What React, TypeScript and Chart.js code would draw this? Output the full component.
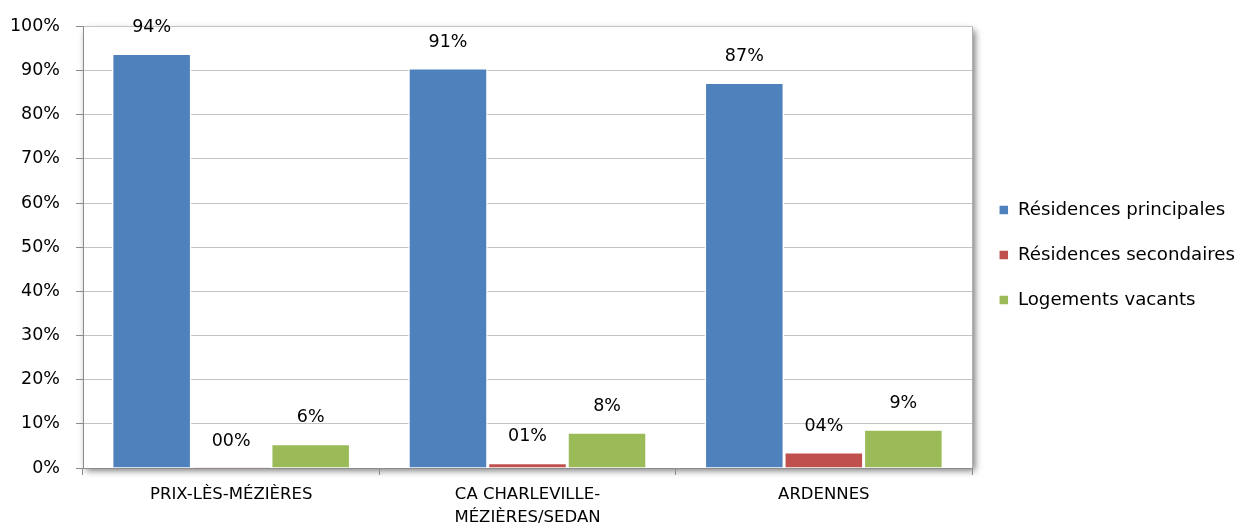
import React, { useEffect, useRef } from "react";
import { Chart, registerables } from "chart.js";

Chart.register(...registerables);

const categories: string[][] = [["PRIX-LÈS-MÉZIÈRES"], ["CA CHARLEVILLE-", "MÉZIÈRES/SEDAN"], ["ARDENNES"]];
const seriesNames = ["Résidences principales", "Résidences secondaires", "Logements vacants"];
const principales = [93.9, 90.6, 87.3];
const secondaires = [0.2, 1.2, 3.6];
const vacants = [5.5, 8.1, 8.8];
const seriesColors = ["#4F81BD", "#C0504D", "#9BBB59"];
const labelPadDigits = [1, 2, 1];
const yMin = 0;
const yMax = 100;
const yStep = 10;

const FONT = "'DejaVu Sans', sans-serif";

const plotDecor = {
  id: "plotDecor",
  afterLayout(chart: any) {
    const lg = chart.legend;
    if (lg) {
      lg.top = 0;
      lg.bottom = 510;
    }
  },
  beforeDraw(chart: any) {
    const { ctx, chartArea: a } = chart;
    ctx.save();
    ctx.shadowColor = "rgba(0,0,0,0.55)";
    ctx.shadowBlur = 7;
    ctx.shadowOffsetX = 3;
    ctx.shadowOffsetY = 3;
    ctx.fillStyle = "#fff";
    ctx.fillRect(a.left, a.top, a.right - a.left, a.bottom - a.top);
    ctx.restore();
  },
  beforeDatasetsDraw(chart: any) {
    const { ctx, chartArea: a } = chart;
    ctx.save();
    ctx.strokeStyle = "#b0b0b0";
    ctx.lineWidth = 1;
    ctx.beginPath();
    ctx.moveTo(Math.round(a.right) + 0.5, a.top);
    ctx.lineTo(Math.round(a.right) + 0.5, a.bottom);
    ctx.stroke();
    ctx.restore();
  },
};

const valueLabels = {
  id: "valueLabels",
  afterDatasetsDraw(chart: any) {
    const { ctx } = chart;
    ctx.save();
    ctx.font = `17.5px ${FONT}`;
    ctx.fillStyle = "#000";
    ctx.textAlign = "center";
    ctx.textBaseline = "middle";
    chart.data.datasets.forEach((ds: any, di: number) => {
      const meta = chart.getDatasetMeta(di);
      meta.data.forEach((bar: any, i: number) => {
        const v = ds.data[i] as number;
        const txt = String(Math.round(v)).padStart(labelPadDigits[di], "0") + "%";
        ctx.fillText(txt, bar.x, bar.y - 26);
      });
    });
    ctx.restore();
  },
};

export default function App() {
  const ref = useRef<HTMLCanvasElement | null>(null);
  useEffect(() => {
    if (!ref.current) return;
    const chart = new Chart(ref.current, {
      type: "bar",
      data: {
        labels: categories as any,
        datasets: [principales, secondaires, vacants].map((d, i) => ({
          label: seriesNames[i],
          data: d,
          backgroundColor: seriesColors[i],
          borderColor: "#ffffff",
          borderWidth: 1.5,
          categoryPercentage: 0.805,
          barPercentage: 1,
        })),
      },
      options: {
        animation: false,
        responsive: false,
        devicePixelRatio: 1,
        layout: { padding: { top: 23.5, bottom: 0, left: 0, right: 0 } },
        plugins: {
          tooltip: { enabled: false },
          legend: {
            position: "right",
            align: "center",
            labels: {
              boxWidth: 10,
              boxHeight: 10,
              padding: 26.8,
              color: "#000",
              font: { family: FONT, size: 18.2 },
            },
          },
        },
        scales: {
          x: {
            afterFit: (s: any) => {
              s.height = 529 - 468;
            },
            grid: {
              display: true,
              drawOnChartArea: false,
              offset: true,
              tickLength: 7,
              tickColor: "#8c8c8c",
              color: "#8c8c8c",
            },
            border: { color: "#8c8c8c", width: 1 },
            ticks: {
              color: "#000",
              padding: 8.5,
              maxRotation: 0,
              autoSkip: false,
              font: { family: FONT, size: 16.5, lineHeight: 1.4 },
            },
          },
          y: {
            min: yMin,
            max: yMax,
            afterFit: (s: any) => {
              s.width = 83;
            },
            grid: {
              color: "#c4c4c4",
              tickLength: 7,
              tickColor: "#8c8c8c",
            },
            border: { color: "#8c8c8c", width: 1 },
            ticks: {
              stepSize: yStep,
              color: "#000",
              padding: 16,
              font: { family: FONT, size: 17.5 },
              callback: (v: any) => `${v}%`,
            },
          },
        },
      },
      plugins: [plotDecor, valueLabels],
    } as any);
    const lg: any = (chart as any).legend;
    if (lg) {
      const origFit = lg.fit.bind(lg);
      lg.fit = function () {
        origFit();
        this.width = 1247 - 972;
      };
      chart.update();
    }
    return () => chart.destroy();
  }, []);
  return (
    <div style={{ position: "absolute", left: 0, top: 0, width: 1247, height: 529, background: "#fff" }}>
      <canvas ref={ref} width={1247} height={529} style={{ display: "block" }} />
    </div>
  );
}
